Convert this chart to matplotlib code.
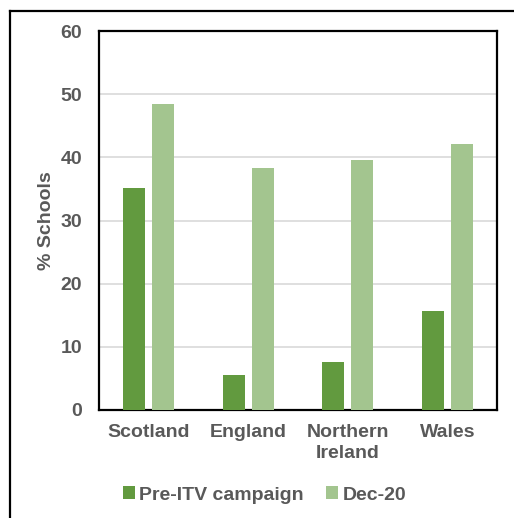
import matplotlib.pyplot as plt
import numpy as np
from matplotlib.lines import Line2D

regions = ['Scotland', 'England', 'Northern\nIreland', 'Wales']
pre_itv = [35.1, 5.5, 7.6, 15.7]
dec_20 = [48.4, 38.3, 39.6, 42.1]
series_names = ['Pre-ITV campaign', 'Dec-20']
yticks = [0, 10, 20, 30, 40, 50, 60]

dark = '#629A3F'
light = '#A3C58F'
grey = '#595959'

plt.rcParams['font.family'] = ['Liberation Sans', 'DejaVu Sans']
plt.rcParams['font.weight'] = 'bold'

W, H = 514, 518
fig = plt.figure(figsize=(W / 100, H / 100), dpi=100)
ax = fig.add_axes([99 / W, 1 - 410 / H, (497 - 99) / W, (410 - 31) / H])

x = np.arange(len(regions))
bw = 0.22
ax.bar(x - 0.145, pre_itv, bw, color=dark, label=series_names[0], zorder=3)
ax.bar(x + 0.145, dec_20, bw, color=light, label=series_names[1], zorder=3)

ax.set_xlim(-0.5, len(regions) - 0.5)
ax.set_ylim(0, 60)
ax.set_yticks(yticks)
ax.set_xticks(x)
ax.set_xticklabels(regions, linespacing=1.3)
ax.tick_params(axis='both', length=0, labelsize=14, colors=grey)
ax.tick_params(axis='y', pad=12)
ax.tick_params(axis='x', pad=10)
ax.yaxis.grid(True, color='#D9D9D9', linewidth=1.2, zorder=0)
for s in ax.spines.values():
    s.set_linewidth(1.6)
    s.set_color('black')

ax.set_ylabel('% Schools', fontsize=14, color=grey, fontweight='bold', labelpad=4)

leg = fig.legend(loc='center', bbox_to_anchor=(0.515, 1 - 495 / H), ncol=2,
                 frameon=False, fontsize=14, handlelength=0.6, handleheight=0.6,
                 handletextpad=0.25, columnspacing=1.15)
for t in leg.get_texts():
    t.set_color(grey)

# outer border (left and top only visible)
fig.add_artist(Line2D([9.5 / W, 9.5 / W], [0, 1 - 11 / H], color='black',
                      linewidth=1.6, transform=fig.transFigure))
fig.add_artist(Line2D([9.5 / W, 1], [1 - 11 / H, 1 - 11 / H], color='black',
                      linewidth=1.6, transform=fig.transFigure))

plt.savefig('out.png', dpi=100)
